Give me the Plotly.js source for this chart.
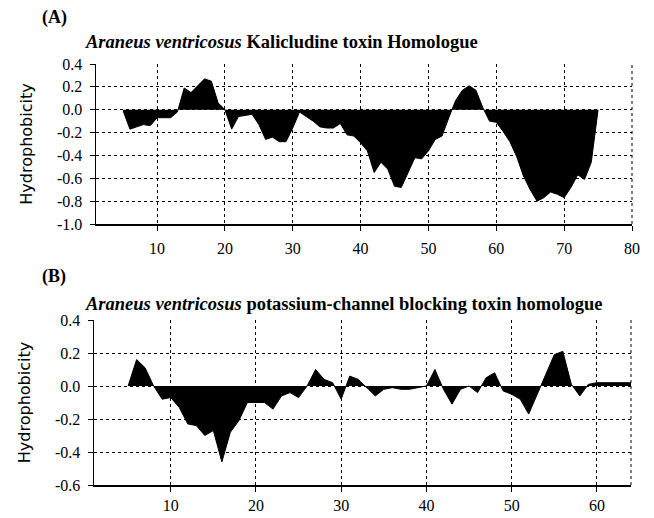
<!DOCTYPE html>
<html>
<head>
<meta charset="utf-8">
<script src="https://cdn.plot.ly/plotly-3.0.1.min.js"></script>
<style>
  html, body { margin: 0; padding: 0; background: #fff; }
  #chart { width: 654px; height: 518px; }
</style>
</head>
<body>
<div id="chart"></div>
<script>
// Panel A: Araneus ventricosus Kalicludine toxin homologue
const residuesA = [5,6,7,8,9,10,11,12,13,14,15,16,17,18,19,20,21,22,23,24,25,26,27,28,29,30,
  31,32,33,34,35,36,37,38,39,40,41,42,43,44,45,46,47,48,49,50,51,52,53,54,55,56,57,58,59,60,
  61,62,63,64,65,66,67,68,69,70,71,72,73,74,75];
const hydroA = [-0.01,-0.17,-0.15,-0.13,-0.14,-0.07,-0.07,-0.07,-0.02,0.19,0.15,0.21,0.27,0.25,0.06,0.0,
  -0.17,-0.06,-0.05,-0.04,-0.13,-0.26,-0.24,-0.28,-0.28,-0.16,
  -0.02,-0.06,-0.10,-0.15,-0.16,-0.16,-0.12,-0.22,-0.23,-0.29,
  -0.36,-0.55,-0.46,-0.52,-0.67,-0.68,-0.55,-0.42,-0.43,-0.36,
  -0.26,-0.23,-0.07,0.08,0.17,0.21,0.17,0.02,-0.10,-0.11,
  -0.19,-0.28,-0.41,-0.58,-0.70,-0.80,-0.77,-0.72,-0.74,-0.77,
  -0.68,-0.57,-0.61,-0.46,0.0];

// Panel B: Araneus ventricosus potassium-channel blocking toxin homologue
const residuesB = [5,6,7,8,9,10,11,12,13,14,15,16,17,18,19,20,21,22,23,24,25,26,27,28,29,30,
  31,32,33,34,35,36,37,38,39,40,41,42,43,44,45,46,47,48,49,50,51,52,53,54,55,56,57,58,59,60,
  61,62,63,64];
const hydroB = [0.0,0.16,0.11,0.0,-0.08,-0.07,-0.13,-0.23,-0.24,-0.30,-0.27,-0.46,-0.28,-0.21,-0.10,-0.10,
  -0.10,-0.14,-0.06,-0.04,-0.07,0.0,0.10,0.04,0.02,-0.08,
  0.06,0.04,-0.01,-0.06,-0.02,-0.01,-0.02,-0.02,-0.01,0.0,
  0.10,-0.02,-0.11,-0.02,0.0,-0.04,0.05,0.08,-0.03,-0.05,
  -0.08,-0.17,-0.05,0.07,0.19,0.21,0.01,-0.06,0.01,0.02,
  0.02,0.02,0.02,0.02];

const ticksA_x = [10,20,30,40,50,60,70,80];
const ticksA_y = [0.4,0.2,0.0,-0.2,-0.4,-0.6,-0.8,-1.0];
const ticksB_x = [10,20,30,40,50,60];
const ticksB_y = [0.4,0.2,0.0,-0.2,-0.4,-0.6];

const serif = "Liberation Serif, Times New Roman, serif";
const sans = "DejaVu Sans, Arial, sans-serif";

const traces = [
  { x: residuesA, y: hydroA, type: 'scatter', mode: 'lines', fill: 'tozeroy',
    fillcolor: '#000', line: { color: '#000', width: 1 }, xaxis: 'x', yaxis: 'y',
    hoverinfo: 'skip', showlegend: false },
  { x: residuesB, y: hydroB, type: 'scatter', mode: 'lines', fill: 'tozeroy',
    fillcolor: '#000', line: { color: '#000', width: 1 }, xaxis: 'x2', yaxis: 'y2',
    hoverinfo: 'skip', showlegend: false }
];

function xaxisDef(domain, range, ticks, standoff) {
  return {
    domain: domain, range: range, tickvals: ticks, ticktext: ticks.map(String),
    showgrid: true, gridcolor: '#000', griddash: 'dot', gridwidth: 1,
    showline: true, linecolor: '#000', linewidth: 1.5,
    ticks: 'outside', ticklen: 5, tickcolor: '#000', tickwidth: 1,
    zeroline: false, automargin: false, fixedrange: true,
    tickfont: { family: serif, size: 16, color: '#000' }, ticklabelstandoff: standoff
  };
}
function yaxisDef(domain, range, ticks) {
  return {
    domain: domain, range: range, tickvals: ticks, ticktext: ticks.map(v => v.toFixed(1)),
    showgrid: true, gridcolor: '#000', griddash: 'dot', gridwidth: 1,
    showline: true, linecolor: '#000', linewidth: 1.5,
    ticks: 'outside', ticklen: 5, tickcolor: '#000', tickwidth: 1,
    zeroline: false, automargin: false, fixedrange: true,
    tickfont: { family: serif, size: 16, color: '#000' }, ticklabelstandoff: 4,
    title: { text: 'Hydrophobicity', font: { family: sans, size: 16, color: '#000' }, standoff: 20 }
  };
}

const W = 654, H = 518;
const layout = {
  width: W, height: H,
  margin: { l: 0, r: 0, t: 0, b: 0 },
  paper_bgcolor: '#fff', plot_bgcolor: '#fff',
  showlegend: false,
  xaxis: xaxisDef([96/W, 632/W], [1, 80], ticksA_x, 4),
  yaxis: yaxisDef([(H-224)/H, (H-64)/H], [-1.0, 0.4], ticksA_y),
  xaxis2: Object.assign(xaxisDef([94/W, 631/W], [1, 64], ticksB_x, 0), { anchor: 'y2' }),
  yaxis2: Object.assign(yaxisDef([(H-485)/H, (H-320)/H], [-0.6, 0.4], ticksB_y), { anchor: 'x2' }),
  shapes: [
    { type: 'line', xref: 'x domain', yref: 'y domain', x0: 1, x1: 1, y0: 0, y1: 1,
      line: { color: '#000', width: 1, dash: 'dot' } },
    { type: 'line', xref: 'x2 domain', yref: 'y2 domain', x0: 1, x1: 1, y0: 0, y1: 1,
      line: { color: '#000', width: 1, dash: 'dot' } }
  ],
  annotations: [
    { text: '<b>(A)</b>', xref: 'paper', yref: 'paper', x: 40/W, y: (H-17)/H,
      xanchor: 'left', yanchor: 'middle', showarrow: false,
      font: { family: serif, size: 18, color: '#000' } },
    { text: '<b><i>Araneus ventricosus</i> Kalicludine toxin Homologue</b>', xref: 'paper', yref: 'paper',
      x: 83/W, y: (H-42)/H, xanchor: 'left', yanchor: 'middle', showarrow: false,
      font: { family: serif, size: 18.5, color: '#000' } },
    { text: '<b>(B)</b>', xref: 'paper', yref: 'paper', x: 40/W, y: (H-276)/H,
      xanchor: 'left', yanchor: 'middle', showarrow: false,
      font: { family: serif, size: 18, color: '#000' } },
    { text: '<b><i>Araneus ventricosus</i> potassium-channel blocking toxin homologue</b>', xref: 'paper', yref: 'paper',
      x: 83/W, y: (H-304)/H, xanchor: 'left', yanchor: 'middle', showarrow: false,
      font: { family: serif, size: 18.5, color: '#000' } }
  ]
};

Plotly.newPlot('chart', traces, layout, { displayModeBar: false, staticPlot: true });
</script>
</body>
</html>
